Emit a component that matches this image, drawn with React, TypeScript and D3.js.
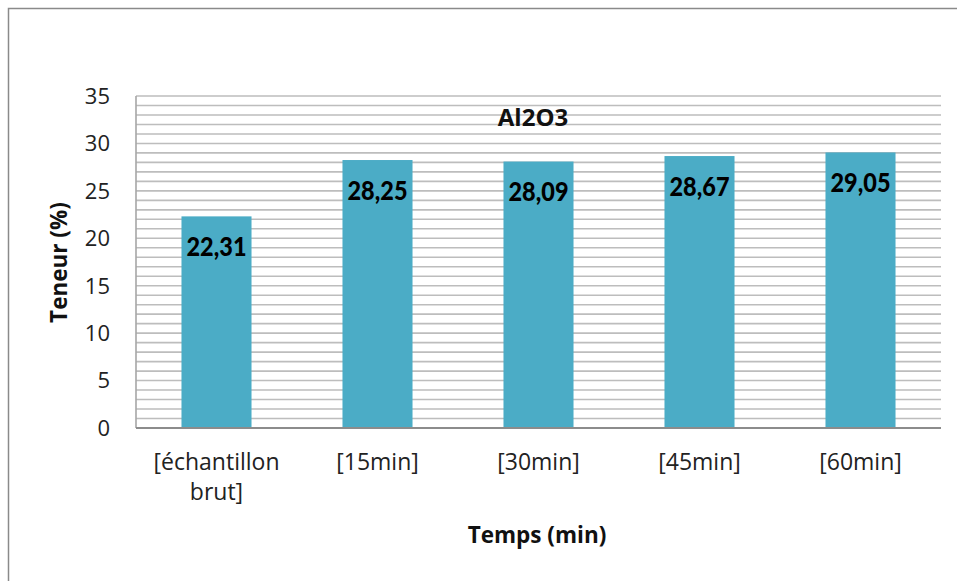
import React from "react";
import * as d3 from "d3";

const categories: string[][] = [
  ["[échantillon", "brut]"],
  ["[15min]"],
  ["[30min]"],
  ["[45min]"],
  ["[60min]"],
];
const values: number[] = [22.31, 28.25, 28.09, 28.67, 29.05];
const valueLabels: string[] = ["22,31", "28,25", "28,09", "28,67", "29,05"];
const majorTicks: number[] = [0, 5, 10, 15, 20, 25, 30, 35];
const chartTitle = "Al2O3";
const yTitle = "Teneur (%)";
const xTitle = "Temps (min)";

const W = 957;
const H = 581;
const plot = { left: 136, right: 941, top: 96, bottom: 428 };
const font = "'Open Sans', sans-serif";
const labelFont = "Lato, 'Open Sans', sans-serif";

export default function App() {
  const x = d3
    .scaleBand<number>()
    .domain(d3.range(values.length))
    .range([plot.left, plot.right])
    .paddingInner(0.565)
    .paddingOuter(0.2825);
  const y = d3.scaleLinear().domain([0, 35]).range([plot.bottom, plot.top]);
  const minor = d3.range(1, 36);
  const cx = (i: number) => (x(i) ?? 0) + x.bandwidth() / 2;

  return (
    <svg
      width={W}
      height={H}
      style={{ position: "absolute", left: 0, top: 0, background: "#fff" }}
    >
      <rect x={8.5} y={8.5} width={W} height={H} fill="#fff" stroke="#8a8a8a" strokeWidth={1.5} />
      {minor.map((v) => (
        <line
          key={v}
          x1={plot.left}
          x2={plot.right}
          y1={y(v)}
          y2={y(v)}
          stroke="#bdbdbd"
          strokeWidth={1.6}
        />
      ))}
      <line x1={plot.left} x2={plot.left} y1={plot.top} y2={plot.bottom} stroke="#a6a6a6" strokeWidth={1.6} />
      {values.map((v, i) => (
        <rect
          key={i}
          x={x(i)}
          y={y(v)}
          width={x.bandwidth()}
          height={y(0) - y(v)}
          fill="#4bacc6"
        />
      ))}
      <line x1={plot.left} x2={plot.right} y1={plot.bottom} y2={plot.bottom} stroke="#8c8c8c" strokeWidth={2} />
      {majorTicks.map((t) => (
        <text
          key={t}
          x={110}
          y={y(t)}
          dy="0.36em"
          textAnchor="end"
          fontFamily={font}
          fontSize={22}
          fill="#222"
        >
          {t}
        </text>
      ))}
      {categories.map((lines, i) => (
        <text
          key={i}
          x={cx(i)}
          y={470}
          textAnchor="middle"
          fontFamily={font}
          fontSize={23}
          fill="#222"
        >
          {lines.map((l, j) => (
            <tspan key={j} x={cx(i)} dy={j === 0 ? 0 : 30}>
              {l}
            </tspan>
          ))}
        </text>
      ))}
      {values.map((v, i) => (
        <text
          key={i}
          x={cx(i)}
          y={y(v) + 39.5}
          textAnchor="middle"
          fontFamily={labelFont}
          fontWeight={900}
          fontSize={26}
          textLength={60}
          lengthAdjust="spacingAndGlyphs"
          fill="#000"
        >
          {valueLabels[i]}
        </text>
      ))}
      <text
        x={533}
        y={126}
        textAnchor="middle"
        fontFamily={font}
        fontWeight={700}
        fontSize={24}
        fill="#111"
      >
        {chartTitle}
      </text>
      <text
        transform={`translate(67, 262.5) rotate(-90)`}
        textAnchor="middle"
        fontFamily={font}
        fontWeight={700}
        fontSize={22.5}
        fill="#111"
      >
        {yTitle}
      </text>
      <text
        x={537}
        y={543}
        textAnchor="middle"
        fontFamily={font}
        fontWeight={700}
        fontSize={22.5}
        fill="#111"
      >
        {xTitle}
      </text>
    </svg>
  );
}
